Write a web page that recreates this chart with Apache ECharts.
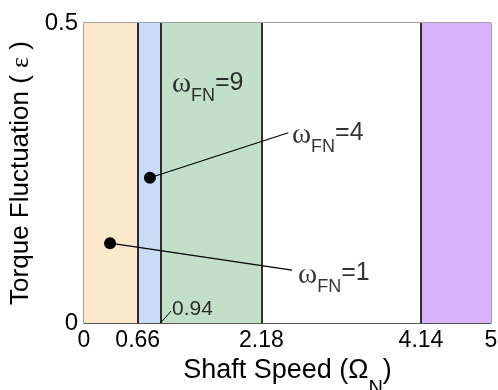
<!DOCTYPE html>
<html><head><meta charset="utf-8">
<script src="https://cdn.jsdelivr.net/npm/echarts@6/dist/echarts.min.js"></script>
<style>html,body{margin:0;padding:0;background:#fff}#c{width:498px;height:390px}</style>
</head><body><div id="c"></div>
<script>
const xTicks = [0, 0.66, 2.18, 4.14, 5];
const yTicks = [0, 0.5];
const bandEdges = [0, 0.66, 0.94, 2.18, 4.14, 5];
const bandColors = ['#fce8cb', '#c9dcf5', '#c3dfc8', '#ffffff', '#d9b3fe'];
const boundaryLines = [0.66, 0.94, 2.18, 4.14];
const operatingPoints = [[0.32, 0.133], [0.81, 0.242]];
const leaderEnds = [[2.555, 0.088], [2.51, 0.317]];
const labelNames = ['1', '4', '9'];
const labelAnchors = [[2.63, 0.06], [2.555, 0.294], [1.08, 0.378]];
const noteFrom = [0.94, 0];
const noteTo = [1.07, 0.02];
const noteText = '0.94';

const SANS = 'Liberation Sans';
const SERIF = 'Liberation Serif';

const areas = [];
for (let i = 0; i < bandColors.length; i++) {
  areas.push([{xAxis: bandEdges[i], yAxis: 0, itemStyle: {color: bandColors[i]}}, {xAxis: bandEdges[i + 1], yAxis: 0.5}]);
}

const series = [];
series.push({
  type: 'line', data: [], silent: true,
  markArea: {silent: true, itemStyle: {borderWidth: 0, opacity: 1}, data: areas},
  markLine: {silent: true, symbol: 'none', label: {show: false},
    lineStyle: {color: '#000', width: 1.6, type: 'solid', opacity: 1},
    data: boundaryLines.map(v => ({xAxis: v}))}
});
operatingPoints.forEach((p, i) => {
  series.push({type: 'line', data: [p, leaderEnds[i]], symbol: 'none', silent: true,
    lineStyle: {color: '#000', width: 1.2}, z: 3});
});
series.push({type: 'line', data: [noteFrom, noteTo], symbol: 'none', silent: true,
  lineStyle: {color: '#000', width: 1}, z: 3});
series.push({type: 'scatter', data: operatingPoints, symbolSize: 12, itemStyle: {color: '#000', opacity: 1}, z: 5, silent: true});
series.push({type: 'scatter', symbolSize: 0, silent: true, z: 6,
  data: labelAnchors.map((a, i) => ({value: a, name: labelNames[i]})),
  label: {show: true, position: 'right', distance: 0,
    formatter: p => '{w|ω}{s|FN}{n|=' + p.name + '}',
    rich: {
      w: {fontFamily: SERIF, fontSize: 29, lineHeight: 26, verticalAlign: 'top', color: '#000'},
      s: {fontFamily: SANS, fontSize: 18, lineHeight: 52, verticalAlign: 'middle', color: '#000'},
      n: {fontFamily: SANS, fontSize: 25, lineHeight: 26, verticalAlign: 'top', color: '#000'}
    }}
});
series.push({type: 'scatter', symbolSize: 0, silent: true, z: 6,
  data: [{value: noteTo, name: noteText}],
  label: {show: true, position: 'right', distance: 1, formatter: p => p.name,
    fontFamily: SANS, fontSize: 21, color: '#000', offset: [0, -2]}
});

const chart = echarts.init(document.getElementById('c'), null, {renderer: 'canvas'});
chart.setOption({
  animation: false,
  backgroundColor: '#fff',
  grid: {left: 84, right: 7, top: 23, bottom: 67, containLabel: false, outerBoundsMode: 'none',
    show: true, borderColor: '#444', borderWidth: 1, backgroundColor: 'transparent'},
  xAxis: {
    type: 'value', min: 0, max: 5,
    splitLine: {show: false},
    axisLine: {show: true, lineStyle: {color: '#555', width: 1}},
    axisTick: {show: false},
    axisLabel: {customValues: xTicks, formatter: v => String(v), fontFamily: SANS, fontSize: 23, color: '#000', margin: 6, hideOverlap: false, showMinLabel: true, showMaxLabel: true},
    name: '{a|Shaft Speed (Ω}{s|N}{a|)}', nameLocation: 'middle', nameGap: 30,
    nameTextStyle: {fontFamily: SANS, fontSize: 27, color: '#000', verticalAlign: 'top',
      rich: {
        a: {fontFamily: SANS, fontSize: 27, lineHeight: 28, verticalAlign: 'top', color: '#000'},
        s: {fontFamily: SANS, fontSize: 20, lineHeight: 64, verticalAlign: 'middle', color: '#000'}
      }}
  },
  yAxis: {
    type: 'value', min: 0, max: 0.5, interval: 0.5,
    splitLine: {show: false},
    axisLine: {show: true, lineStyle: {color: '#444', width: 1}},
    axisTick: {show: false},
    axisLabel: {customValues: yTicks, formatter: v => String(v), fontFamily: SANS, fontSize: 24, color: '#000', margin: 6},
    name: '{a|Torque Fluctuation ( }{e|ε}{a| )}', nameLocation: 'middle', nameGap: 50,
    nameTextStyle: {fontFamily: SANS, fontSize: 26, color: '#000',
      rich: {a: {fontFamily: SANS, fontSize: 26, color: '#000'}, e: {fontFamily: SERIF, fontSize: 26, color: '#000'}}}
  },
  series: series
});
</script></body></html>
